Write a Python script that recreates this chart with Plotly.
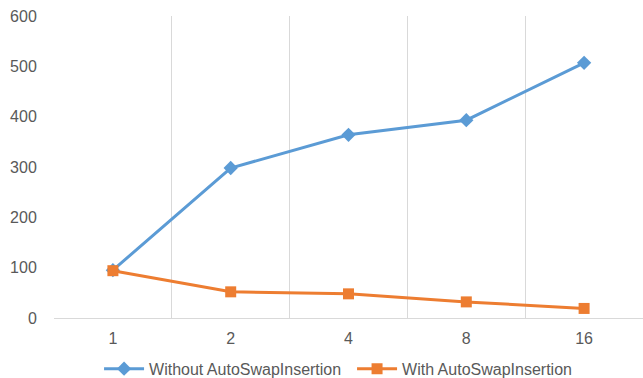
import plotly.graph_objects as go

# Thread counts on the category axis
categories = ["1", "2", "4", "8", "16"]
without_swap = [95, 298, 364, 393, 507]
with_swap = [94, 52, 48, 32, 19]
y_ticks = [0, 100, 200, 300, 400, 500, 600]

BLUE = "#5B9BD5"
ORANGE = "#ED7D31"
GRID = "#D9D9D9"
TEXT = "#595959"
FONT = "Liberation Sans"

fig = go.Figure()
fig.add_trace(go.Scatter(
    x=categories, y=without_swap, name="Without AutoSwapInsertion",
    mode="lines+markers",
    line=dict(color=BLUE, width=3),
    marker=dict(symbol="diamond", size=11, color=BLUE),
))
fig.add_trace(go.Scatter(
    x=categories, y=with_swap, name="With AutoSwapInsertion",
    mode="lines+markers",
    line=dict(color=ORANGE, width=3),
    marker=dict(symbol="square", size=11, color=ORANGE),
))

fig.update_layout(
    width=643, height=378,
    margin=dict(l=54, r=0, t=16, b=60, autoexpand=False),
    paper_bgcolor="white", plot_bgcolor="white",
    font=dict(family=FONT, size=16, color=TEXT),
    showlegend=True,
    legend=dict(
        orientation="h", x=0.0765, xanchor="left", y=-0.112, yanchor="top",
        font=dict(family=FONT, size=16, color=TEXT),
        entrywidth=198, entrywidthmode="pixels",
        itemwidth=40, tracegroupgap=0,
    ),
    xaxis=dict(
        type="category", range=[-0.5, 4.5],
        tickson="boundaries", ticks="",
        showgrid=True, gridcolor=GRID, gridwidth=1,
        showline=True, linecolor=GRID, linewidth=1,
        ticklabelstandoff=6,
        tickfont=dict(family=FONT, size=16, color=TEXT),
        fixedrange=True,
    ),
    yaxis=dict(
        range=[0, 600], tickvals=y_ticks,
        showgrid=False, zeroline=False, showline=False,
        ticks="outside", ticklen=13, tickcolor="rgba(0,0,0,0)",
        tickfont=dict(family=FONT, size=16, color=TEXT),
        fixedrange=True,
    ),
)

fig.write_html("out.html")
